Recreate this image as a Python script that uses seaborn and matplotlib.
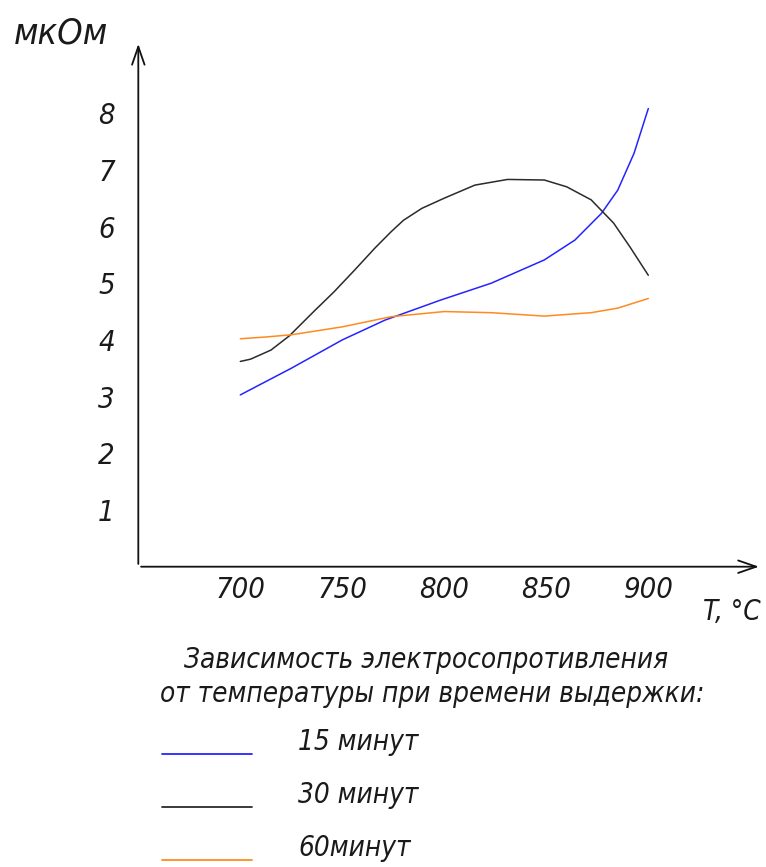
#%%
# Resistance vs temperature at different holding times
import pandas as pd
import seaborn as sns
import matplotlib.pyplot as plt

#%%
# values (T in C, R in mkOm)
t_15 = [700, 725, 750, 771, 798, 823, 849, 864, 877, 885, 893, 900]
r_15 = [3.03, 3.50, 4.00, 4.35, 4.70, 5.00, 5.41, 5.76, 6.23, 6.64, 7.29, 8.08]

t_30 = [700, 705, 715, 724, 736, 746, 756, 766, 774, 780, 789, 800, 815, 831, 849, 860, 872, 883, 891, 900]
r_30 = [3.62, 3.66, 3.82, 4.07, 4.50, 4.85, 5.23, 5.62, 5.91, 6.11, 6.32, 6.50, 6.73, 6.83, 6.82, 6.70, 6.47, 6.06, 5.64, 5.14]

t_60 = [700, 712, 725, 750, 774, 800, 823, 849, 872, 885, 900]
r_60 = [4.02, 4.05, 4.09, 4.23, 4.41, 4.50, 4.48, 4.42, 4.48, 4.56, 4.73]

x_ticks = [700, 750, 800, 850, 900]
y_ticks = [1, 2, 3, 4, 5, 6, 7, 8]
labels = ['15 минут', '30 минут', '60минут']
colors = ['#2424ff', '#2b2b2b', '#ff8a1e']

df = pd.concat([
    pd.DataFrame({'T': t_15, 'R': r_15, 'serie': labels[0]}),
    pd.DataFrame({'T': t_30, 'R': r_30, 'serie': labels[1]}),
    pd.DataFrame({'T': t_60, 'R': r_60, 'serie': labels[2]}),
])

#%%
sns.set_style('white')
plt.rcParams['font.family'] = ['DejaVu Sans']
plt.rcParams['font.style'] = 'italic'
plt.rcParams['font.stretch'] = 'condensed'

W, H = 766, 867
fig = plt.figure(figsize=(W / 100, H / 100), dpi=100)

def fx(px):
    return px / W

def fy(py):
    return 1 - py / H

# axes placed so that 650..955 C and 0..9.27 fill the drawn frame
ax = fig.add_axes([fx(138.3), fy(566.7), (955 - 650) * 2.04 / W, 9.27 * 56.7 / H])
sns.lineplot(data=df, x='T', y='R', hue='serie', palette=dict(zip(labels, colors)),
             sort=False, estimator=None, linewidth=1.1, legend=False, ax=ax)
ax.set_xlim(650, 955)
ax.set_ylim(0, 9.27)
ax.set_xlabel('')
ax.set_ylabel('')
for s in ax.spines.values():
    s.set_visible(False)

# axes with open arrow heads
arr = dict(arrowstyle='->, head_length=1.3, head_width=0.45', color='#111111', lw=1.3)
ax.annotate('', xy=(0, 1), xytext=(0, 0), xycoords='axes fraction', arrowprops=arr)
ax.annotate('', xy=(1.002, 0), xytext=(0, 0), xycoords='axes fraction', arrowprops=arr)

ax.set_xticks(x_ticks)
ax.set_yticks(y_ticks)
ax.set_xticklabels([str(v) for v in x_ticks], fontsize=21, color='#1a1a1a')
ax.set_yticklabels([str(v) for v in y_ticks], fontsize=21, color='#1a1a1a')
ax.tick_params(axis='x', direction='in', length=2, width=1, pad=7, color='#111111')
ax.tick_params(axis='y', direction='out', length=3, width=1, pad=14, color='#111111')

fig.text(fx(14), fy(33), 'мкОм', fontsize=26, va='center', ha='left', color='#1a1a1a')
fig.text(fx(703), fy(612), 'T, °C', fontsize=20, va='center', ha='left', color='#1a1a1a')

fig.text(fx(426), fy(660), 'Зависимость электросопротивления', fontsize=20,
         ha='center', va='center', color='#1a1a1a')
fig.text(fx(432), fy(694), 'от температуры при времени выдержки:', fontsize=20,
         ha='center', va='center', color='#1a1a1a')

# hand made legend
leg_y = [754, 807, 860]
for lab, col, yy in zip(labels, colors, leg_y):
    fig.add_artist(plt.Line2D([fx(162), fx(252)], [fy(yy), fy(yy)], color=col, lw=1.3))
    fig.text(fx(298), fy(yy - 12), lab, fontsize=20, ha='left', va='center', color='#1a1a1a')

fig.savefig('out.png', dpi=100)
